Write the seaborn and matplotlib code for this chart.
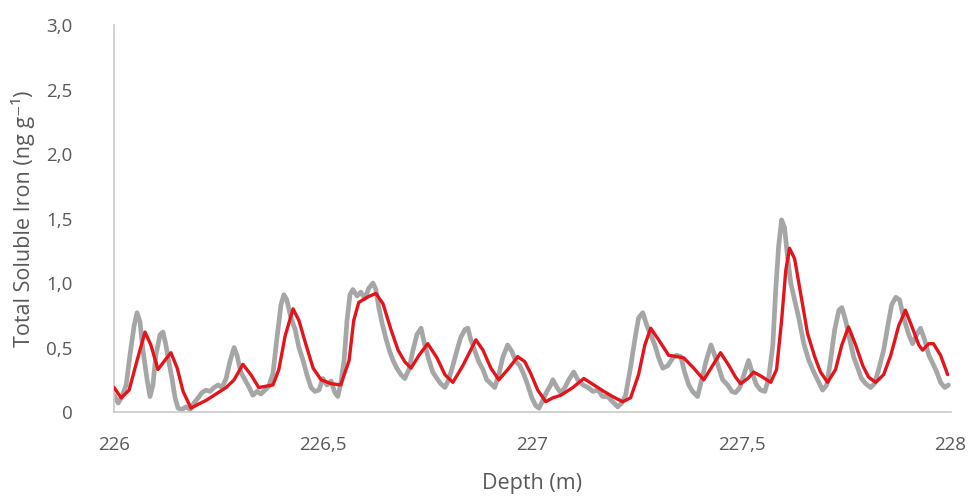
import matplotlib
matplotlib.use("Agg")
import matplotlib.pyplot as plt
import seaborn as sns
import pandas as pd

# Raw measurements (grey trace)
raw_depth = [
    226.000, 226.010, 226.019, 226.029, 226.038, 226.048, 226.055, 226.062, 226.069, 226.079,
    226.086, 226.093, 226.100, 226.110, 226.117, 226.124, 226.131, 226.139, 226.146, 226.153,
    226.162, 226.172, 226.182, 226.191, 226.201, 226.210, 226.220, 226.229, 226.239, 226.249,
    226.258, 226.268, 226.277, 226.287, 226.294, 226.303, 226.313, 226.323, 226.332, 226.342,
    226.351, 226.361, 226.370, 226.380, 226.389, 226.399, 226.406, 226.413, 226.423, 226.433,
    226.442, 226.452, 226.461, 226.471, 226.480, 226.490, 226.499, 226.509, 226.519, 226.528,
    226.535, 226.542, 226.550, 226.557, 226.564, 226.571, 226.581, 226.590, 226.600, 226.609,
    226.619, 226.626, 226.633, 226.640, 226.650, 226.659, 226.667, 226.676, 226.686, 226.695,
    226.705, 226.714, 226.724, 226.734, 226.743, 226.753, 226.762, 226.772, 226.781, 226.791,
    226.800, 226.810, 226.820, 226.829, 226.839, 226.846, 226.853, 226.863, 226.872, 226.882,
    226.891, 226.901, 226.910, 226.920, 226.929, 226.941, 226.951, 226.961, 226.970, 226.980,
    226.989, 226.999, 227.008, 227.016, 227.025, 227.035, 227.044, 227.049, 227.059, 227.068,
    227.078, 227.087, 227.099, 227.109, 227.121, 227.133, 227.145, 227.157, 227.168, 227.180,
    227.192, 227.204, 227.214, 227.223, 227.235, 227.245, 227.254, 227.264, 227.274, 227.283,
    227.293, 227.302, 227.312, 227.324, 227.336, 227.345, 227.355, 227.364, 227.374, 227.383,
    227.395, 227.405, 227.415, 227.427, 227.436, 227.446, 227.455, 227.467, 227.477, 227.486,
    227.496, 227.508, 227.517, 227.527, 227.536, 227.546, 227.556, 227.565, 227.575, 227.582,
    227.589, 227.596, 227.603, 227.611, 227.618, 227.627, 227.637, 227.649, 227.661, 227.673,
    227.685, 227.694, 227.704, 227.713, 227.723, 227.733, 227.740, 227.749, 227.759, 227.768,
    227.778, 227.787, 227.797, 227.809, 227.818, 227.828, 227.840, 227.850, 227.859, 227.869,
    227.878, 227.888, 227.900, 227.909, 227.919, 227.928, 227.938, 227.948, 227.957, 227.967,
    227.976, 227.986, 227.995,
]
raw_iron = [
    0.13, 0.07, 0.12, 0.21, 0.44, 0.67, 0.77, 0.70, 0.48, 0.25,
    0.12, 0.21, 0.44, 0.60, 0.62, 0.52, 0.39, 0.25, 0.11, 0.03,
    0.02, 0.04, 0.02, 0.07, 0.11, 0.15, 0.17, 0.16, 0.19, 0.21,
    0.19, 0.26, 0.39, 0.50, 0.44, 0.31, 0.25, 0.19, 0.13, 0.16,
    0.14, 0.17, 0.20, 0.30, 0.56, 0.83, 0.91, 0.87, 0.73, 0.64,
    0.50, 0.40, 0.29, 0.19, 0.16, 0.17, 0.26, 0.21, 0.24, 0.15,
    0.12, 0.22, 0.40, 0.71, 0.91, 0.95, 0.90, 0.93, 0.88, 0.96,
    1.00, 0.95, 0.81, 0.70, 0.57, 0.47, 0.40, 0.34, 0.29, 0.26,
    0.33, 0.47, 0.60, 0.65, 0.52, 0.40, 0.31, 0.26, 0.22, 0.19,
    0.25, 0.36, 0.48, 0.58, 0.64, 0.65, 0.56, 0.47, 0.39, 0.33,
    0.25, 0.22, 0.19, 0.29, 0.42, 0.52, 0.47, 0.39, 0.36, 0.29,
    0.21, 0.11, 0.05, 0.03, 0.09, 0.16, 0.21, 0.25, 0.19, 0.15,
    0.19, 0.25, 0.31, 0.25, 0.21, 0.19, 0.16, 0.17, 0.12, 0.12,
    0.08, 0.04, 0.07, 0.13, 0.35, 0.56, 0.73, 0.77, 0.67, 0.60,
    0.52, 0.42, 0.34, 0.36, 0.42, 0.44, 0.43, 0.31, 0.21, 0.16,
    0.12, 0.25, 0.39, 0.52, 0.44, 0.34, 0.25, 0.21, 0.16, 0.15,
    0.19, 0.31, 0.40, 0.29, 0.21, 0.17, 0.16, 0.26, 0.52, 0.95,
    1.29, 1.49, 1.43, 1.18, 1.00, 0.87, 0.73, 0.53, 0.40, 0.31,
    0.23, 0.17, 0.21, 0.40, 0.64, 0.79, 0.81, 0.71, 0.56, 0.43,
    0.34, 0.26, 0.22, 0.19, 0.22, 0.33, 0.48, 0.67, 0.83, 0.89,
    0.87, 0.73, 0.60, 0.53, 0.60, 0.65, 0.56, 0.44, 0.38, 0.31,
    0.23, 0.19, 0.21,
]

# Smoothed record (red trace)
smooth_depth = [
    226.000, 226.017, 226.036, 226.055, 226.074, 226.088, 226.105, 226.119, 226.136, 226.151,
    226.165, 226.184, 226.201, 226.220, 226.244, 226.268, 226.287, 226.308, 226.327, 226.346,
    226.363, 226.380, 226.394, 226.409, 226.428, 226.442, 226.459, 226.476, 226.495, 226.519,
    226.542, 226.562, 226.573, 226.585, 226.605, 226.626, 226.643, 226.662, 226.679, 226.695,
    226.710, 226.729, 226.750, 226.772, 226.791, 226.810, 226.834, 226.865, 226.882, 226.901,
    226.920, 226.944, 226.965, 226.982, 226.996, 227.013, 227.032, 227.049, 227.068, 227.097,
    227.123, 227.147, 227.171, 227.192, 227.216, 227.235, 227.254, 227.269, 227.283, 227.302,
    227.326, 227.345, 227.362, 227.386, 227.410, 227.431, 227.450, 227.470, 227.486, 227.498,
    227.515, 227.529, 227.546, 227.570, 227.584, 227.596, 227.606, 227.615, 227.627, 227.642,
    227.658, 227.675, 227.689, 227.706, 227.725, 227.740, 227.756, 227.773, 227.790, 227.804,
    227.821, 227.840, 227.857, 227.876, 227.892, 227.909, 227.924, 227.933, 227.948, 227.959,
    227.976, 227.993,
]
smooth_iron = [
    0.19, 0.11, 0.17, 0.40, 0.62, 0.52, 0.33, 0.39, 0.46, 0.34,
    0.16, 0.03, 0.06, 0.09, 0.14, 0.19, 0.25, 0.37, 0.29, 0.19,
    0.20, 0.21, 0.33, 0.59, 0.80, 0.71, 0.52, 0.34, 0.25, 0.22,
    0.21, 0.40, 0.71, 0.85, 0.89, 0.92, 0.84, 0.64, 0.48, 0.39,
    0.34, 0.44, 0.53, 0.42, 0.29, 0.23, 0.36, 0.56, 0.48, 0.34,
    0.25, 0.34, 0.43, 0.39, 0.30, 0.17, 0.08, 0.11, 0.13, 0.19,
    0.26, 0.21, 0.16, 0.12, 0.08, 0.11, 0.29, 0.52, 0.65, 0.56,
    0.44, 0.43, 0.42, 0.34, 0.25, 0.36, 0.46, 0.36, 0.27, 0.22,
    0.26, 0.31, 0.28, 0.23, 0.33, 0.71, 1.10, 1.27, 1.19, 0.91,
    0.61, 0.43, 0.31, 0.23, 0.33, 0.52, 0.66, 0.52, 0.36, 0.27,
    0.23, 0.29, 0.44, 0.67, 0.79, 0.65, 0.52, 0.48, 0.53, 0.53,
    0.44, 0.29,
]

x_ticks = [226.0, 226.5, 227.0, 227.5, 228.0]
x_tick_labels = ["226", "226,5", "227", "227,5", "228"]
y_ticks = [0.0, 0.5, 1.0, 1.5, 2.0, 2.5, 3.0]
y_tick_labels = ["0", "0,5", "1,0", "1,5", "2,0", "2,5", "3,0"]

raw = pd.DataFrame({"depth": raw_depth, "iron": raw_iron})
smooth = pd.DataFrame({"depth": smooth_depth, "iron": smooth_iron})

sns.set_theme(style="white")
plt.rcParams["font.family"] = ["Open Sans", "DejaVu Sans"]

fig = plt.figure(figsize=(9.69, 5.04), dpi=100)
ax = fig.add_axes([0.1177, 0.1825, 0.8633, 0.7675])

sns.lineplot(data=raw, x="depth", y="iron", sort=False, estimator=None,
             color="#a5a7a6", linewidth=3.4, ax=ax, zorder=2)
sns.lineplot(data=smooth, x="depth", y="iron", sort=False, estimator=None,
             color="#e3141b", linewidth=2.4, ax=ax, zorder=3)
for line in ax.get_lines():
    line.set_solid_joinstyle("round")
    line.set_solid_capstyle("round")

ax.set_xlim(226.0, 228.0)
ax.set_ylim(0.0, 3.0)
ax.set_xticks(x_ticks)
ax.set_xticklabels(x_tick_labels)
ax.set_yticks(y_ticks)
ax.set_yticklabels(y_tick_labels)

label_color = "#595959"
ax.tick_params(axis="both", length=0, labelsize=13.5, colors=label_color)
ax.tick_params(axis="y", pad=30)
ax.tick_params(axis="x", pad=17)

for side in ("top", "right"):
    ax.spines[side].set_visible(False)
for side in ("left", "bottom"):
    ax.spines[side].set_color("#c9c9c9")
    ax.spines[side].set_linewidth(1.2)

ax.set_xlabel("Depth (m)", fontsize=15.5, color=label_color, labelpad=14)
ax.set_ylabel("Total Soluble Iron (ng g\u207b\u00b9)", fontsize=15.5,
              color=label_color, labelpad=8)
ax.grid(False)

fig.savefig("out.png", dpi=100)
